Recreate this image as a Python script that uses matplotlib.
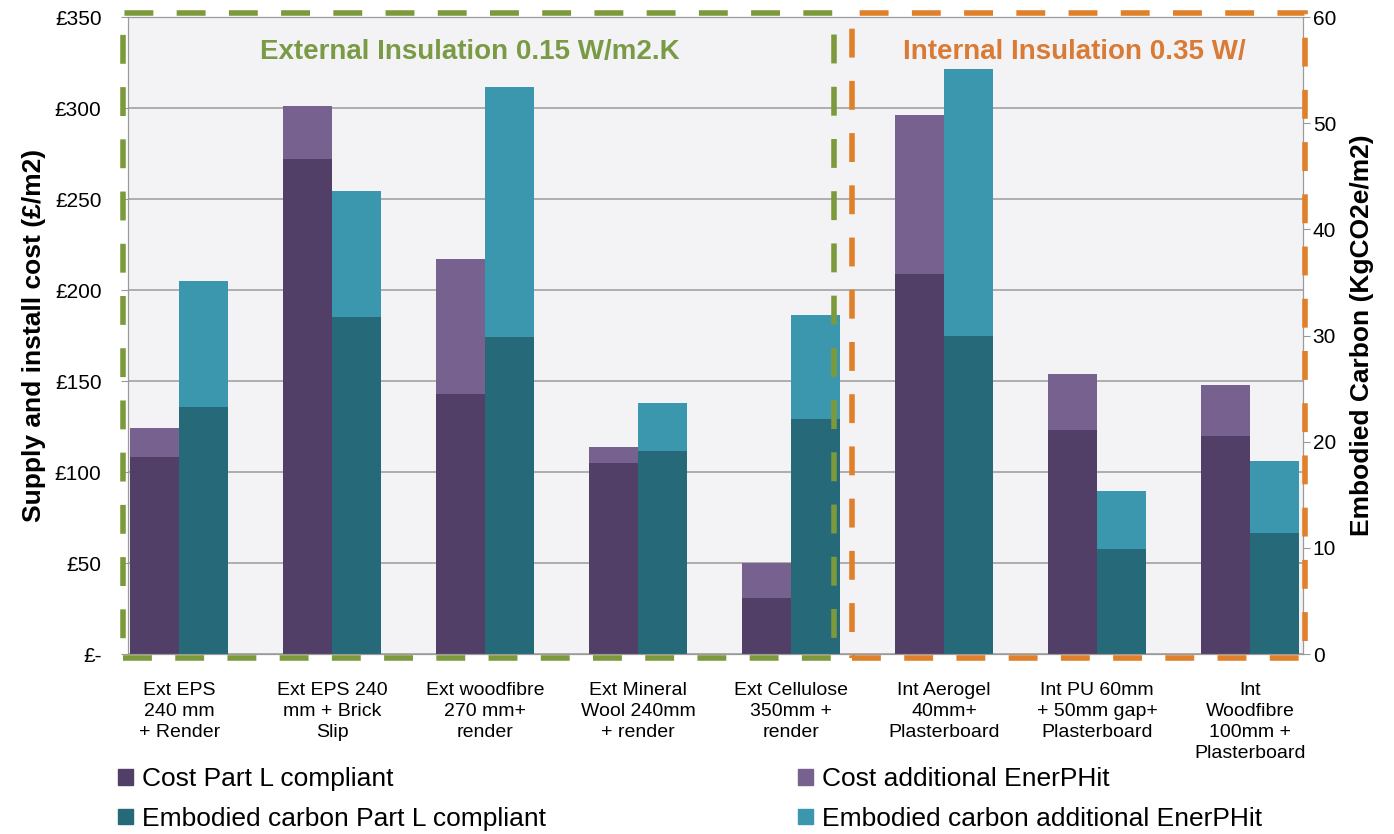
#!/usr/bin/env python
#   Cost vs embodied carbon of wall insulation options
#

import numpy as np
import matplotlib
matplotlib.use('Agg')
import matplotlib.pyplot as plt
import matplotlib.transforms as mtransforms
from matplotlib.patches import Rectangle, Patch


#----------------------------------------------------
# Data
#----------------------------------------------------
categories = ['Ext EPS\n240 mm\n+ Render',
              'Ext EPS 240\nmm + Brick\nSlip',
              'Ext woodfibre\n270 mm+\nrender',
              'Ext Mineral\nWool 240mm\n+ render',
              'Ext Cellulose\n350mm +\nrender',
              'Int Aerogel\n40mm+\nPlasterboard',
              'Int PU 60mm\n+ 50mm gap+\nPlasterboard',
              'Int\nWoodfibre\n100mm +\nPlasterboard']

# supply and install cost (GBP/m2)
cost_partl = [108, 272, 143, 105, 31, 209, 123, 120]
cost_enerphit = [16, 29, 74, 9, 19, 87, 31, 28]

# embodied carbon (KgCO2e/m2)
carbon_partl = [23.3, 31.7, 29.9, 19.1, 22.1, 30.0, 9.9, 11.4]
carbon_enerphit = [11.8, 11.9, 23.5, 4.5, 9.8, 25.1, 5.5, 6.8]

cost_ticks = [0, 50, 100, 150, 200, 250, 300, 350]
cost_ticklabels = ['£-', '£50', '£100', '£150', '£200', '£250', '£300', '£350']
carbon_ticks = [0, 10, 20, 30, 40, 50, 60]


def main():

    BIGFONT = 20
    MIDFONT = 19
    SMFONT = 15

    plt.rcParams['font.family'] = ['Liberation Sans', 'DejaVu Sans']

    C_COST = '#513f67'
    C_COST_ADD = '#77618f'
    C_CARB = '#266a7a'
    C_CARB_ADD = '#3a97ad'
    GREEN = '#7c9a3c'
    ORANGE = '#e0802a'

    x = np.arange(len(categories))
    w = 0.32

    fig = plt.figure(figsize=(13.94, 8.34), dpi=100)
    ax = fig.add_axes([0.0918, 0.2158, 0.8429, 0.7638])
    ax.set_facecolor('#f3f3f5')
    ax.set_axisbelow(True)
    ax.yaxis.grid(True, color='#a8a8a8', lw=1.3)

    ax.bar(x - w/2, cost_partl, w, color=C_COST, align='center')
    ax.bar(x - w/2, cost_enerphit, w, bottom=cost_partl, color=C_COST_ADD, align='center')

    ax.set_xlim(-0.335, 7.345)
    ax.set_ylim(0, 350)
    ax.set_yticks(cost_ticks)
    ax.set_yticklabels(cost_ticklabels, fontsize=SMFONT)
    ax.set_xticks(x)
    ax.set_xticklabels(categories, fontsize=14, linespacing=1.3)
    ax.tick_params(axis='x', length=0, pad=20)
    ax.tick_params(axis='y', length=5, color='#999999', pad=14)
    ax.set_ylabel('Supply and install cost (£/m2)', fontsize=MIDFONT,
                  fontweight='bold', labelpad=6)

    ax2 = ax.twinx()
    ax2.bar(x + w/2, carbon_partl, w, color=C_CARB, align='center')
    ax2.bar(x + w/2, carbon_enerphit, w, bottom=carbon_partl, color=C_CARB_ADD, align='center')
    ax2.set_ylim(0, 60)
    ax2.set_yticks(carbon_ticks)
    ax2.tick_params(axis='y', labelsize=SMFONT, length=5, color='#999999', pad=2)
    ax2.set_ylabel('Embodied Carbon (KgCO2e/m2)', fontsize=MIDFONT,
                   fontweight='bold', labelpad=10)

    for a in (ax, ax2):
        for s in a.spines.values():
            s.set_color('#9a9a9a')

    # dashed group frames, x in data, y in axes fraction
    trans = mtransforms.blended_transform_factory(ax2.transData, ax2.transAxes)
    dash = (0, (5.2, 4.2))
    ax2.add_patch(Rectangle((-0.37, -0.006), 4.65, 1.012, fill=False, ec=GREEN,
                            lw=4.0, ls=dash, transform=trans, clip_on=False, zorder=5))
    ax2.add_patch(Rectangle((4.40, -0.006), 2.96, 1.012, fill=False, ec=ORANGE,
                            lw=4.0, ls=dash, transform=trans, clip_on=False, zorder=5))

    ax2.text(1.90, 0.945, 'External Insulation 0.15 W/m2.K', transform=trans,
             color='#7a9a45', fontsize=BIGFONT, fontweight='bold',
             ha='center', va='center')
    ax2.text(5.85, 0.945, 'Internal Insulation 0.35 W/', transform=trans,
             color='#d97a35', fontsize=BIGFONT, fontweight='bold',
             ha='center', va='center')

    # legend in two separate columns
    leg_kw = dict(frameon=False, fontsize=MIDFONT, handlelength=0.55,
                  handleheight=0.55, handletextpad=0.35, labelspacing=0.6,
                  borderaxespad=0, borderpad=0, loc='upper left')
    h1 = [Patch(color=C_COST, label='Cost Part L compliant'),
          Patch(color=C_CARB, label='Embodied carbon Part L compliant')]
    h2 = [Patch(color=C_COST_ADD, label='Cost additional EnerPHit'),
          Patch(color=C_CARB_ADD, label='Embodied carbon additional EnerPHit')]
    fig.legend(handles=h1, bbox_to_anchor=(118/1394, 1 - 767/834), **leg_kw)
    fig.legend(handles=h2, bbox_to_anchor=(798/1394, 1 - 767/834), **leg_kw)

    fig.savefig('out.png', dpi=100)


if __name__ == "__main__":
    main()
